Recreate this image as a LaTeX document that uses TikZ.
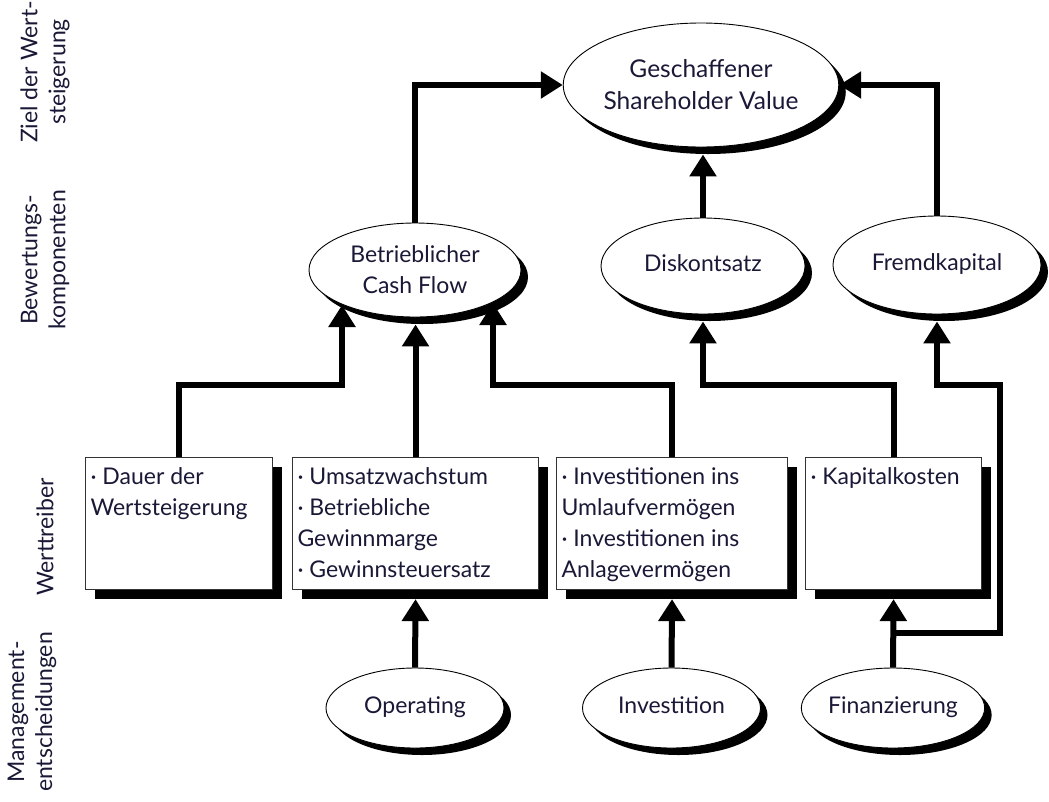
\documentclass[tikz,border=0pt]{standalone}
\usepackage{fontspec}
\setmainfont{Lato}
\usetikzlibrary{shapes.geometric,arrows.meta,shadows,calc}
\definecolor{txt}{RGB}{25,25,55}
\begin{document}
\begin{tikzpicture}[x=1pt,y=-1pt,
  every node/.style={font=\fontsize{23}{31}\selectfont, text=txt},
  ell/.style={ellipse, draw=black, line width=0.9pt, fill=white, inner sep=0pt, align=center,
    drop shadow={shadow xshift=7pt, shadow yshift=-7pt, fill=black, opacity=1}},
  one/.style={text height=16pt, text depth=5pt},
  box/.style={rectangle, draw=black!80, line width=1.1pt, fill=white, inner sep=5pt, anchor=north west,
    drop shadow={shadow xshift=9pt, shadow yshift=-9pt, fill=black, opacity=1}},
  conn/.style={line width=6pt, line join=miter, -{Triangle[length=22pt,width=26pt]}},
  side/.style={rotate=90, align=center, font=\fontsize{23}{28}\selectfont}
]
\useasboundingbox (0,0) rectangle (1049,801);

% side labels
\node[side] (l1) at (45,72) {Ziel der Wert-\\steigerung};
\node[side] (l2) at (45,260) {Bewertungs-\\komponenten};
\node[side] (l3) at (45,537) {Werttreiber};
\node[side] (l4) at (32,712) {Management-\\entscheidungen};

% ellipses
\node[ell, minimum width=272pt, minimum height=124pt, font=\fontsize{24.5}{32}\selectfont] (sv) at (701,85) {Geschaffener\\Shareholder Value};
\node[ell, minimum width=212pt, minimum height=94pt] (cf) at (415,270) {Betrieblicher\\Cash Flow};
\node[ell, one, minimum width=204pt, minimum height=96pt] (dk) at (703,266) {Diskontsatz};
\node[ell, one, minimum width=208pt, minimum height=98pt] (fk) at (937,265) {Fremdkapital};
\node[ell, one, minimum width=178pt, minimum height=80pt] (op) at (415,708) {Operating};
\node[ell, one, minimum width=178pt, minimum height=80pt] (iv) at (671.5,708) {Investition};
\node[ell, one, minimum width=170pt, minimum height=80pt] (fz) at (893,708) {Finanzierung};

% boxes
\node[box] (b1) at (85,457) {\begin{minipage}[t][122pt][t]{177pt}\raggedright\strut· Dauer der\\Wertsteigerung\end{minipage}};
\node[box] (b2) at (292,457) {\begin{minipage}[t][122pt][t]{236pt}\raggedright\strut· Umsatzwachstum\\· Betriebliche\\Gewinnmarge\\· Gewinnsteuersatz\end{minipage}};
\node[box] (b3) at (556,457) {\begin{minipage}[t][122pt][t]{221pt}\raggedright\strut· Investitionen ins\\Umlaufvermögen\\· Investitionen ins\\Anlagevermögen\end{minipage}};
\node[box] (b4) at (805,457) {\begin{minipage}[t][122pt][t]{166pt}\raggedright\strut· Kapitalkosten\end{minipage}};

% connectors
\draw[conn] (cf.north) |- (sv.west);
\draw[conn] (fk.north) |- (sv.east);
\draw[conn] (dk.north) -- ($(dk.north |- sv.south)+(0,7)$);
\draw[conn] (b1.north) -- ++(0,-72) -| ($(cf.center)+(-73,35)$);
\draw[conn] (b2.north) -- ($(b2.north |- cf.south)+(0,7)$);
\draw[conn] (b3.north) -- ++(0,-72) -| ($(cf.center)+(78,33)$);
\draw[conn] (b4.north) -- ++(0,-72) -| ($(dk.south)+(0,7)$);
\draw[conn] (fz.north) -- ($(b4.south)+(0,9)$);
\coordinate (br) at ($(fz.north)+(0,-35)$);
\draw[conn] (br) -- ++(107,0) -- ++(0,-248) -| ($(fk.south)+(0,7)$);
\draw[conn] (op.north) -- ($(b2.south)+(0,9)$);
\draw[conn] (iv.north) -- ($(b3.south)+(0,9)$);
\end{tikzpicture}
\end{document}
